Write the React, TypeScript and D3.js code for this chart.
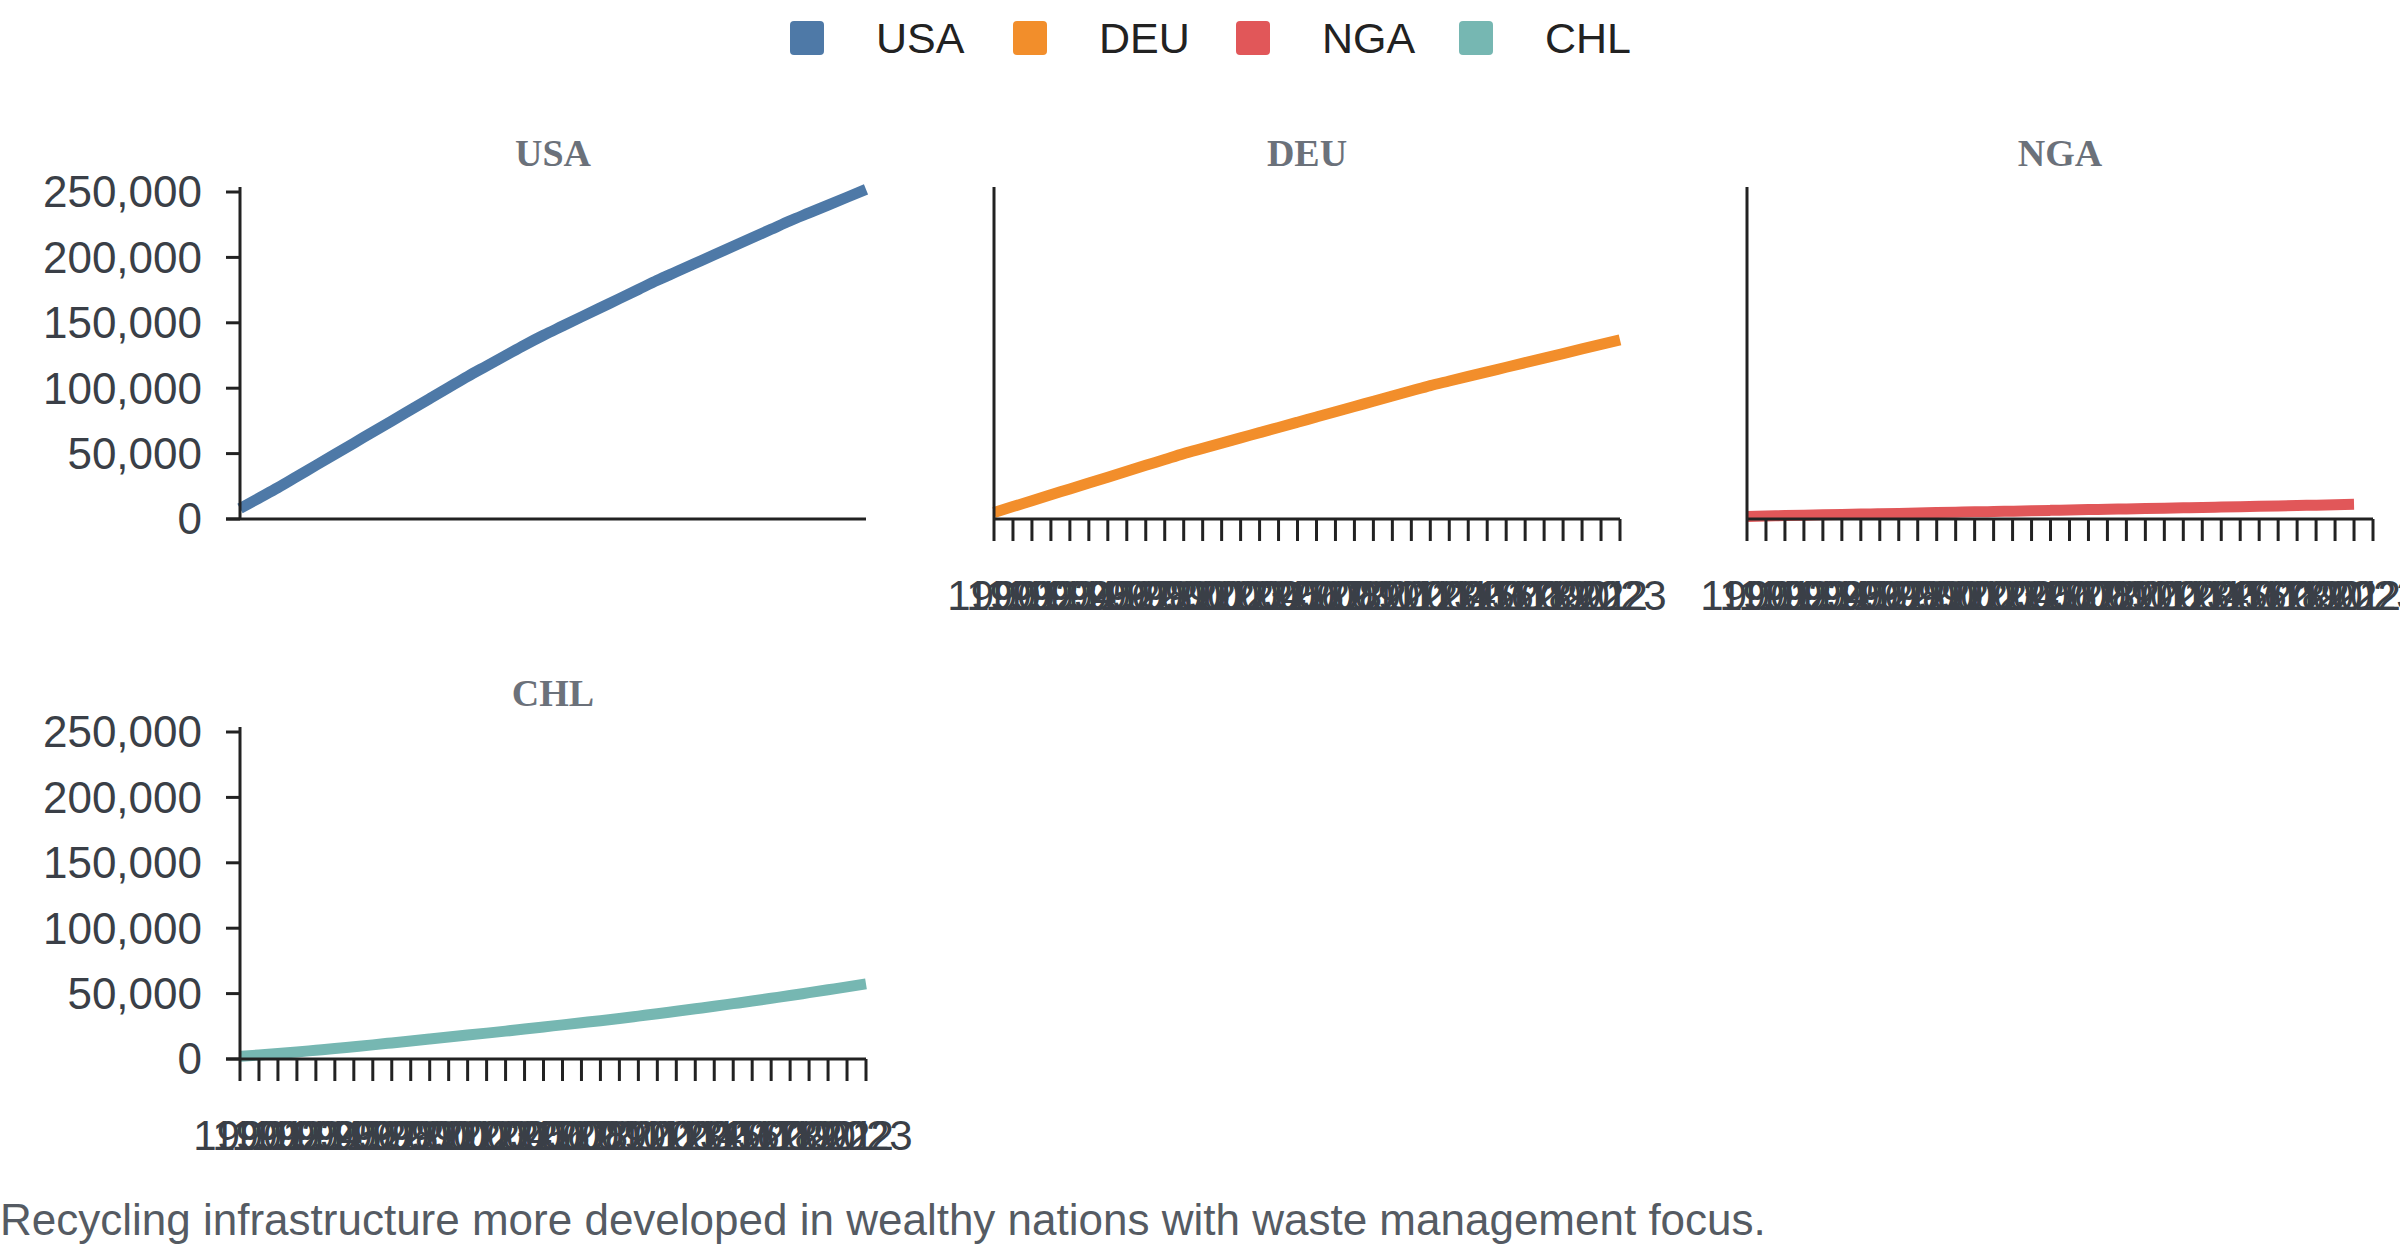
import * as d3 from "d3";

const countries = ["USA", "DEU", "NGA", "CHL"];
const colors = ["#4e79a7", "#f28e2b", "#e15759", "#76b7b2"];
const years = d3.range(1990, 2024);
const usa = [8000, 16000, 24000, 32500, 41000, 49500, 58000, 66500, 75000, 83500, 92000, 100500, 109000, 117000, 125000, 133000, 140500, 147500, 154500, 161500, 168500, 175500, 182500, 189000, 195500, 202000, 208500, 215000, 221500, 228000, 234000, 240000, 246000, 252000];
const deu = [5000, 9500, 14000, 18500, 23000, 27500, 32000, 36500, 41000, 45500, 50000, 54000, 58000, 62000, 66000, 70000, 74000, 78000, 82000, 86000, 90000, 94000, 98000, 102000, 105500, 109000, 112500, 116000, 119500, 123000, 126500, 130000, 133500, 137000];
const nga = [2000, 2300, 2600, 2900, 3200, 3500, 3800, 4000, 4300, 4600, 4900, 5200, 5500, 5700, 6000, 6300, 6600, 6900, 7200, 7400, 7700, 8000, 8300, 8600, 8800, 9100, 9400, 9700, 10000, 10300, 10600, 10900, 11200];
const chl = [2000, 3100, 4200, 5400, 6700, 8000, 9400, 10800, 12300, 13800, 15300, 16800, 18300, 19800, 21300, 22900, 24500, 26100, 27700, 29300, 31000, 32800, 34600, 36500, 38400, 40300, 42300, 44300, 46400, 48500, 50700, 52900, 55100, 57400];
const series = [usa, deu, nga, chl];
const yTicks = [0, 50000, 100000, 150000, 200000, 250000];
const caption = "Recycling infrastructure more developed in wealthy nations with waste management focus.";

const W = 2400, H = 1256;
const pw = 626, ph = 327;
const panels = [
  { x: 240, y: 192, yAxis: true, xAxis: false },
  { x: 994, y: 192, yAxis: false, xAxis: true },
  { x: 1747, y: 192, yAxis: false, xAxis: true },
  { x: 240, y: 732, yAxis: true, xAxis: true },
];
const txt = "#3a3f47";
const font = "Liberation Sans, Arial, sans-serif";

export default function App() {
  const x = d3.scalePoint<number>().domain(years).range([0, pw]);
  const y = d3.scaleLinear().domain([0, 250000]).range([ph, 0]);
  const fmt = d3.format(",");
  return (
    <svg width={W} height={H} style={{ position: "absolute", left: 0, top: 0 }} fontFamily={font}>
      {countries.map((c, i) => (
        <g key={c} transform={`translate(${790 + i * 223},38)`}>
          <rect x={0} y={-17} width={34} height={34} rx={4} fill={colors[i]} />
          <text x={86} y={0} dy="0.35em" fontSize={43} fill="#222">{c}</text>
        </g>
      ))}
      {panels.map((p, i) => {
        const vals = series[i];
        const line = d3.line<number>().x((_, j) => x(years[j])!).y((v) => y(v)).curve(d3.curveMonotoneX);
        return (
          <g key={i} transform={`translate(${p.x},${p.y})`}>
            <text x={pw / 2} y={-26} textAnchor="middle" fontSize={38} fontWeight="bold" fontFamily="Liberation Serif, Times New Roman, serif" fill="#6b717a">{countries[i]}</text>
            <path d={line(vals) ?? undefined} fill="none" stroke={colors[i]} strokeWidth={11} />
            <line x1={0} x2={0} y1={-5} y2={ph} stroke="#222" strokeWidth={3} />
            <line x1={p.yAxis ? -14 : 0} x2={pw} y1={ph} y2={ph} stroke="#222" strokeWidth={3} />
            {p.yAxis && yTicks.map((t) => (
              <g key={t} transform={`translate(0,${y(t)})`}>
                <line x1={-14} x2={0} stroke="#222" strokeWidth={3} />
                <text x={-38} dy="0.35em" textAnchor="end" fontSize={44} fill={txt}>{fmt(t)}</text>
              </g>
            ))}
            {p.xAxis && years.map((yr) => (
              <g key={yr} transform={`translate(${x(yr)},${ph})`}>
                <line y1={0} y2={22} stroke="#222" strokeWidth={3} />
                <text y={76} dy="0.35em" textAnchor="middle" fontSize={42} fill={txt}>{yr}</text>
              </g>
            ))}
          </g>
        );
      })}
      <text x={0} y={1220} dy="0.35em" fontSize={44} fill="#555b63">{caption}</text>
    </svg>
  );
}
